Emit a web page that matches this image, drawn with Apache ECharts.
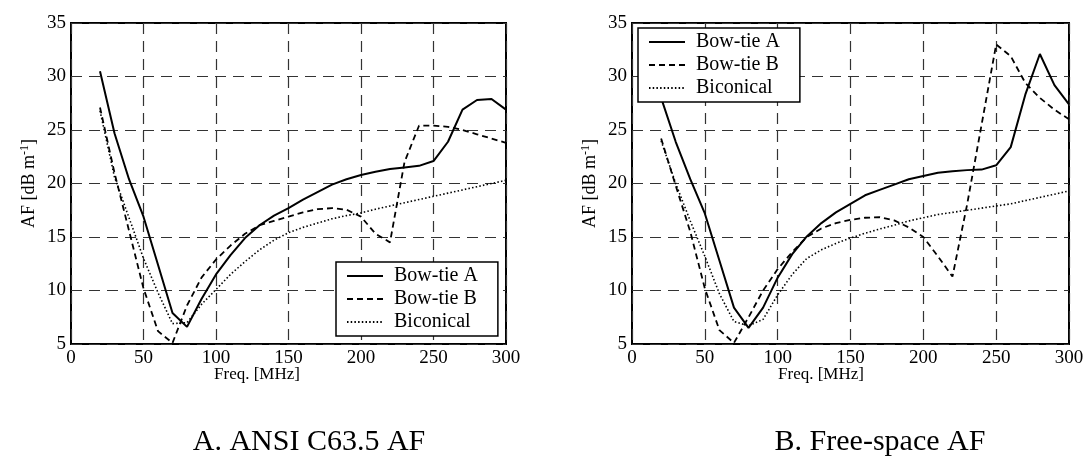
<!DOCTYPE html>
<html>
<head>
<meta charset="utf-8">
<script src="https://cdn.jsdelivr.net/npm/echarts@6/dist/echarts.min.js"></script>
<style>
  html, body { margin: 0; padding: 0; background: #fff; }
  #chart { width: 1087px; height: 465px; }
</style>
</head>
<body>
<div id="chart"></div>
<script>
// ---- data ----
const freq = [20, 30, 40, 50, 60, 70, 80, 90, 100, 110, 120, 130, 140, 150, 160, 170, 180, 190, 200, 210, 220, 230, 240, 250, 260, 270, 280, 290, 300];

// A. ANSI C63.5 AF
const ansiBowtieA = [30.5, 24.7, 20.4, 16.9, 12.4, 7.9, 6.6, 9.2, 11.5, 13.3, 14.9, 16.1, 17.0, 17.7, 18.5, 19.2, 19.9, 20.4, 20.8, 21.1, 21.35, 21.5, 21.65, 22.1, 23.9, 26.9, 27.8, 27.9, 26.9];
const ansiBowtieB = [27.1, 21.0, 15.6, 10.2, 6.2, 5.1, 8.6, 11.2, 12.9, 14.2, 15.3, 16.1, 16.5, 16.9, 17.3, 17.6, 17.7, 17.55, 16.9, 15.3, 14.5, 22.0, 25.4, 25.4, 25.3, 25.0, 24.6, 24.2, 23.8];
const ansiBiconical = [26.8, 20.6, 16.8, 13.0, 9.8, 6.9, 7.0, 8.7, 10.1, 11.5, 12.7, 13.8, 14.7, 15.4, 15.9, 16.3, 16.7, 17.0, 17.25, 17.6, 17.9, 18.2, 18.5, 18.8, 19.1, 19.4, 19.7, 20.0, 20.3];

// B. Free-space AF
const freeBowtieA = [28.0, 23.9, 20.4, 17.2, 12.8, 8.4, 6.5, 8.4, 11.2, 13.4, 15.05, 16.3, 17.3, 18.1, 18.9, 19.4, 19.9, 20.4, 20.7, 21.0, 21.15, 21.25, 21.3, 21.7, 23.4, 28.3, 32.1, 29.2, 27.4];
const freeBowtieB = [24.2, 19.8, 15.5, 10.2, 6.3, 5.1, 7.5, 10.0, 12.0, 13.6, 15.0, 15.8, 16.3, 16.6, 16.8, 16.85, 16.55, 15.9, 15.0, 13.2, 11.3, 18.0, 25.5, 33.0, 31.9, 29.4, 28.0, 26.9, 26.0];
const freeBiconical = [24.0, 20.0, 16.5, 13.2, 9.7, 7.1, 6.7, 7.3, 9.6, 11.5, 13.0, 13.8, 14.4, 14.9, 15.35, 15.75, 16.1, 16.5, 16.8, 17.1, 17.3, 17.5, 17.7, 17.9, 18.1, 18.4, 18.7, 19.0, 19.3];

const seriesNames = ['Bow-tie A', 'Bow-tie B', 'Biconical'];
const captions = ['A. ANSI C63.5 AF', 'B. Free-space AF'];
const xAxisTitle = 'Freq. [MHz]';
const xMin = 0, xMax = 300, xStep = 50;
const yMin = 5, yMax = 35, yStep = 5;

// ---- styling ----
const FONT = "'Liberation Serif', 'Times New Roman', serif";
const styles = [
  { type: 'solid', width: 2 },
  { type: [6, 4], width: 1.8 },
  { type: [1.5, 2.2], width: 1.6 }
];

function pairs(arr) { return freq.map((f, i) => [f, arr[i]]); }

const chartData = [
  [ansiBowtieA, ansiBowtieB, ansiBiconical],
  [freeBowtieA, freeBowtieB, freeBiconical]
];

const grids = [
  { left: 71, top: 23, width: 435, height: 321 },
  { left: 632, top: 23, width: 437, height: 321 }
];

const option = {
  animation: false,
  backgroundColor: '#fff',
  textStyle: { fontFamily: FONT, color: '#000' },
  grid: grids.map(g => Object.assign({ show: true, borderColor: '#000', borderWidth: 2, backgroundColor: 'transparent', containLabel: false }, g)),
  xAxis: grids.map((g, i) => ({
    type: 'value', gridIndex: i, min: xMin, max: xMax, interval: xStep,
    axisLine: { show: false }, axisTick: { show: false },
    axisLabel: { color: '#000', fontFamily: FONT, fontSize: 19, margin: 5 },
    splitLine: { show: true, lineStyle: { color: '#333', type: [11, 7], width: 1.2 } }
  })),
  yAxis: grids.map((g, i) => ({
    type: 'value', gridIndex: i, min: yMin, max: yMax, interval: yStep,
    axisLine: { show: false }, axisTick: { show: false },
    axisLabel: { color: '#000', fontFamily: FONT, fontSize: 19, margin: 5 },
    splitLine: { show: true, lineStyle: { color: '#333', type: [11, 7], width: 1.2 } },
    name: '{n|AF [dB m}{s|-1}{n|]}',
    nameLocation: 'middle', nameRotate: 90, nameGap: 32,
    nameTextStyle: {
      rich: {
        n: { fontFamily: FONT, fontSize: 18, color: '#000' },
        s: { fontFamily: FONT, fontSize: 12, color: '#000', verticalAlign: 'top', padding: [0, 0, 8, 0] }
      }
    }
  })),
  legend: [
    { left: 336, top: 262 },
    { left: 638, top: 28 }
  ].map(p => Object.assign({
    data: seriesNames, orient: 'vertical', itemWidth: 36, itemHeight: 14, itemGap: 3,
    borderColor: '#000', borderWidth: 1.5, backgroundColor: '#fff',
    padding: [4, 20, 4, 10], selectedMode: false,
    itemStyle: { color: 'rgba(0,0,0,0)', borderWidth: 0, opacity: 0 },
    textStyle: { fontFamily: FONT, fontSize: 20, color: '#000', padding: [0, 0, 0, 6] }
  }, p)),
  series: [],
  graphic: []
};

chartData.forEach((set, gi) => {
  set.forEach((arr, si) => {
    option.series.push({
      type: 'line', name: seriesNames[si], xAxisIndex: gi, yAxisIndex: gi,
      data: pairs(arr), symbol: 'none', smooth: false,
      lineStyle: { color: '#000', type: styles[si].type, width: styles[si].width },
      itemStyle: { color: '#000' }
    });
  });
});

// x-axis titles and captions
const xTitleCenters = [257, 821];
const captionCenters = [309, 880];
[0, 1].forEach(i => {
  option.graphic.push({
    type: 'text', x: xTitleCenters[i], y: 375,
    style: { text: xAxisTitle, fontFamily: FONT, fontSize: 17, fill: '#000', align: 'center', verticalAlign: 'middle' }
  });
  option.graphic.push({
    type: 'text', x: captionCenters[i], y: 442,
    style: { text: captions[i], fontFamily: FONT, fontSize: 30, fill: '#000', align: 'center', verticalAlign: 'middle' }
  });
});

const chart = echarts.init(document.getElementById('chart'));
chart.setOption(option);
</script>
</body>
</html>
